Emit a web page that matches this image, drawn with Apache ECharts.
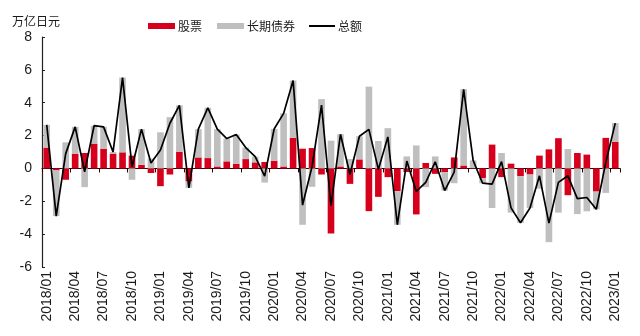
<!DOCTYPE html>
<html>
<head>
<meta charset="utf-8">
<script src="https://cdn.jsdelivr.net/npm/echarts@6/dist/echarts.min.js"></script>
<style>
  html, body { margin: 0; padding: 0; background: #fff; }
  #chart { width: 640px; height: 336px; }
</style>
</head>
<body>
<div id="chart"></div>
<script>
// Monthly categories, 2018/01 – 2023/01
const months = [];
for (let y = 2018; y <= 2023; y++) {
  for (let m = 1; m <= 12; m++) {
    if (y === 2023 && m > 1) break;
    months.push(y + '/' + (m < 10 ? '0' + m : m));
  }
}

// 股票 (trillion yen)
const stocks = [
  1.27, -0.12, -0.69, 0.90, 0.94, 1.51, 1.20, 0.90, 0.98, 0.78, 0.22, -0.28,
  -1.08, -0.37, 1.02, -0.80, 0.67, 0.63, 0.12, 0.43, 0.29, 0.57, 0.37, 0.39,
  0.47, 0.12, 1.86, 1.20, 1.24, -0.37, -3.96, 0.12, -0.94, 0.55, -2.60, -1.73,
  -0.53, -1.39, -0.22, -2.80, 0.33, -0.33, -0.22, 0.67, 0.18, 0.02, -0.60, 1.45,
  -0.53, 0.29, -0.47, -0.37, 0.78, 1.16, 1.84, -1.63, 0.94, 0.84, -1.41, 1.86,
  1.61
];

// 长期债券 (trillion yen)
const bonds = [
  1.38, -2.78, 1.59, 1.63, -1.14, 1.09, 1.33, 0.10, 4.55, -0.69, 2.17, 0.60,
  2.20, 3.12, 2.82, -0.38, 1.72, 3.06, 2.27, 1.39, 1.77, 0.70, 0.35, -0.86,
  1.93, 3.23, 3.49, -3.43, -1.12, 4.22, 1.69, 1.96, 0.57, 1.41, 4.98, 1.67,
  2.45, -2.04, 0.73, 1.40, -1.14, 0.73, -1.13, -0.90, 4.64, 0.47, -0.30, -2.41,
  0.94, -2.69, -2.84, -2.04, -1.23, -4.49, -2.69, 1.18, -2.78, -2.61, -1.08, -1.49,
  1.15
];

// 总额 (trillion yen)
const totals = [
  2.65, -2.90, 0.90, 2.53, -0.20, 2.60, 2.53, 1.00, 5.53, 0.09, 2.39, 0.33,
  1.12, 2.75, 3.84, -1.18, 2.39, 3.69, 2.39, 1.82, 2.06, 1.27, 0.72, -0.47,
  2.40, 3.35, 5.35, -2.23, 0.12, 3.85, -2.27, 2.08, -0.37, 1.96, 2.38, -0.06,
  1.92, -3.43, 0.45, -1.40, -0.85, 0.40, -1.35, -0.23, 4.82, 0.49, -0.90, -0.96,
  0.41, -2.40, -3.31, -2.41, -0.45, -3.33, -0.85, -0.45, -1.84, -1.77, -2.49, 0.37,
  2.76
];

const RED = '#d7001c';
const GRAY = '#bfbfbf';
const TXT = '#1a1a1a';
const CJK = '"Noto Sans CJK SC", sans-serif';
const LATIN = '"Liberation Sans", Arial, sans-serif';

const chart = echarts.init(document.getElementById('chart'), null, { renderer: 'canvas' });

const legendText = { color: TXT, fontFamily: CJK, fontSize: 12, padding: [0, 0, 0, -2] };

chart.setOption({
  animation: false,
  backgroundColor: '#fff',
  graphic: [{
    type: 'text',
    left: 12,
    top: 15,
    style: { text: '万亿日元', fill: TXT, font: '12px ' + CJK }
  }],
  legend: [{
    left: 143,
    top: 15,
    itemWidth: 27,
    itemHeight: 6,
    itemGap: 15,
    icon: 'rect',
    textStyle: legendText,
    data: ['股票', '长期债券']
  }, {
    left: 304,
    top: 15,
    itemWidth: 26,
    itemHeight: 2,
    icon: 'rect',
    textStyle: legendText,
    data: ['总额']
  }],
  grid: { left: 42, right: 20, top: 37, bottom: 69 },
  xAxis: [{
    type: 'category',
    data: months,
    position: 'bottom',
    boundaryGap: true,
    axisLine: { show: false, onZero: false },
    axisTick: { show: false },
    axisLabel: {
      interval: 2,
      rotate: 90,
      margin: 4,
      color: TXT,
      fontFamily: LATIN,
      fontSize: 14
    }
  }, {
    type: 'category',
    data: months,
    position: 'bottom',
    boundaryGap: true,
    axisLine: { show: true, onZero: true, lineStyle: { color: '#2a0000', width: 1.2 } },
    axisTick: { show: true, interval: 2, length: 4, lineStyle: { color: '#2a0000' } },
    axisLabel: { show: false }
  }],
  yAxis: {
    type: 'value',
    min: -6,
    max: 8,
    interval: 2,
    splitLine: { show: false },
    axisLine: { show: true, lineStyle: { color: '#222', width: 1.2 } },
    axisTick: { show: true, inside: true, length: 3, lineStyle: { color: '#222' } },
    axisLabel: { color: TXT, fontFamily: LATIN, fontSize: 14, margin: 10 }
  },
  series: [{
    name: '股票',
    type: 'bar',
    stack: 'flow',
    xAxisIndex: 0,
    data: stocks,
    barWidth: '70%',
    itemStyle: { color: RED }
  }, {
    name: '长期债券',
    type: 'bar',
    stack: 'flow',
    xAxisIndex: 0,
    data: bonds,
    barWidth: '70%',
    itemStyle: { color: GRAY }
  }, {
    name: '总额',
    type: 'line',
    xAxisIndex: 0,
    data: totals,
    symbol: 'none',
    z: 5,
    lineStyle: { color: '#000', width: 1.7 },
    itemStyle: { color: '#000' }
  }]
});
</script>
</body>
</html>
